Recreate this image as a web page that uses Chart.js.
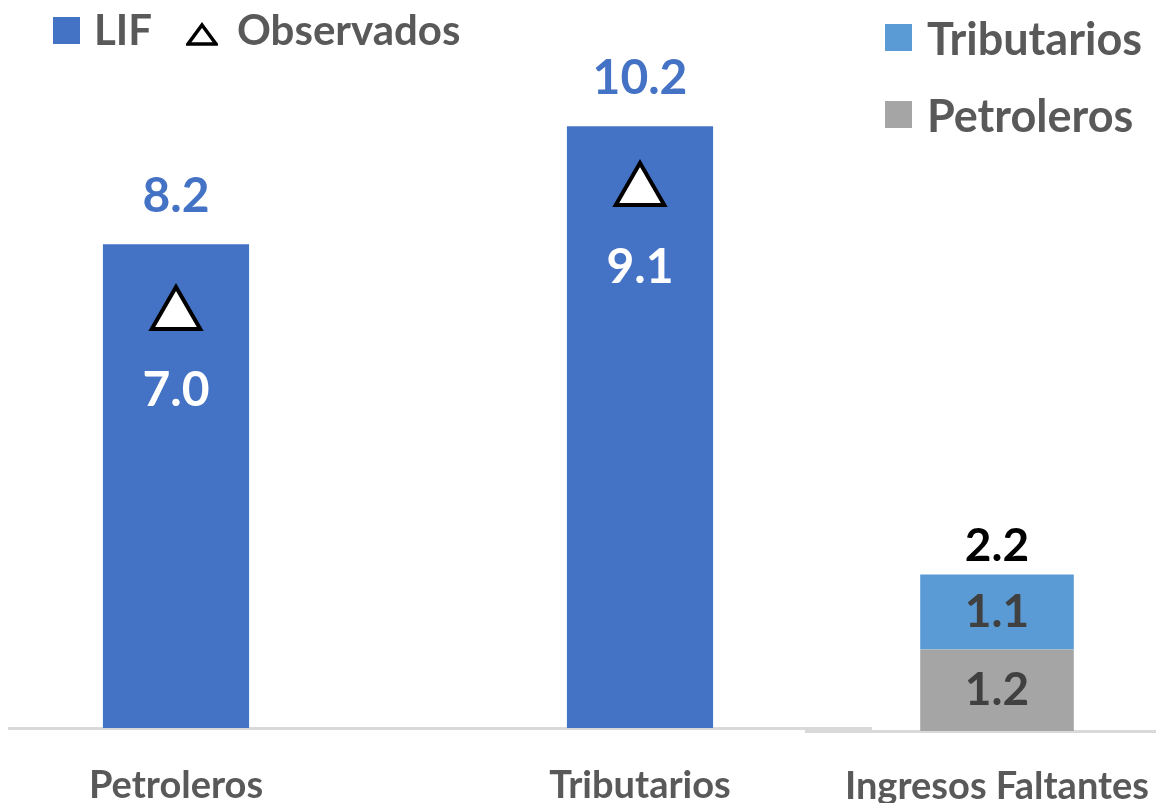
<!DOCTYPE html>
<html>
<head>
<meta charset="utf-8">
<script src="https://cdn.jsdelivr.net/npm/chart.js@4/dist/chart.umd.min.js"></script>
<style>
  html, body { margin: 0; padding: 0; background: #fff; overflow: hidden; }
  body { width: 1156px; height: 803px; position: relative; font-family: Lato, sans-serif; }
  #leftWrap { position: absolute; left: 8px; top: 0; width: 864px; height: 803px; overflow: hidden; }
  #leftChart { position: absolute; left: -64px; top: 0; }
  #rightChart { position: absolute; left: 805px; top: 0; }
  .lg { position: absolute; font-weight: 700; color: #595959; line-height: 1; white-space: nowrap; }
  .sw { position: absolute; width: 27px; height: 27px; }
</style>
</head>
<body>
<div id="leftWrap"><canvas id="leftChart" width="928" height="803"></canvas></div>
<canvas id="rightChart" width="384" height="803"></canvas>

<!-- legends -->
<div class="sw" style="left:53px; top:17px; background:#4472C4;"></div>
<div class="lg" style="left:94px; top:8px; font-size:42px;">LIF</div>
<svg style="position:absolute; left:186px; top:22px;" width="32" height="26">
  <polygon points="16,3 30,22 2,22" fill="#fff" stroke="#000" stroke-width="3.5" stroke-linejoin="miter"/>
</svg>
<div class="lg" style="left:237px; top:8px; font-size:42px;">Observados</div>

<div class="sw" style="left:885px; top:24px; background:#5B9BD5;"></div>
<div class="lg" style="left:927px; top:16px; font-size:45px;">Tributarios</div>
<div class="sw" style="left:885px; top:101px; background:#A5A5A5;"></div>
<div class="lg" style="left:927px; top:93px; font-size:45px;">Petroleros</div>

<script>
// data
const categories = ['Petroleros', 'Tributarios'];
const lifValues = [8.2, 10.2];
const observedValues = [7.0, 9.1];

const gapCategories = ['Ingresos Faltantes'];
const gapPetroleros = [1.2];
const gapTributarios = [1.1];
const gapTotals = ['2.2'];

// draws value labels next to the bars / points
const valueLabels = {
    id: 'valueLabels',
    afterDatasetsDraw(chart) {
        const ctx = chart.ctx;
        chart.data.datasets.forEach((ds, i) => {
            const opt = ds.valueLabel;
            if (!opt) return;
            const meta = chart.getDatasetMeta(i);
            meta.data.forEach((el, j) => {
                const text = opt.text ? opt.text[j] : ds.data[j].toFixed(1);
                let y = opt.pos === 'center' ? (el.y + el.base) / 2 : el.y + opt.offset;
                ctx.save();
                ctx.font = 'bold ' + opt.size + 'px Lato';
                ctx.fillStyle = opt.color;
                ctx.textAlign = 'center';
                ctx.textBaseline = 'middle';
                ctx.fillText(text, el.x, y);
                ctx.restore();
            });
        });
    }
};

function xAxis(height, pad) {
    return {
        grid: { display: false, drawTicks: false },
        border: { display: true, color: '#d9d9d9', width: 3 },
        ticks: { color: '#595959', font: { family: 'Lato', size: 38, weight: 'bold' }, padding: pad, maxRotation: 0 },
        afterFit: (scale) => { scale.height = height; }
    };
}

// LIF vs observed
new Chart(document.getElementById('leftChart'), {
    type: 'bar',
    data: {
        labels: categories,
        datasets: [
            {
                type: 'line',
                label: 'Observados',
                data: observedValues,
                showLine: false,
                pointStyle: 'triangle',
                pointRadius: 28,
                pointBackgroundColor: '#ffffff',
                pointBorderColor: '#000000',
                pointBorderWidth: 4,
                valueLabel: { offset: 76, size: 48, color: '#ffffff' },
                order: 0
            },
            {
                label: 'LIF',
                data: lifValues,
                backgroundColor: '#4472C4',
                barPercentage: 0.315,
                categoryPercentage: 1,
                valueLabel: { offset: -48, size: 48, color: '#4472C4' },
                order: 1
            }
        ]
    },
    options: {
        responsive: false,
        animation: false,
        events: [],
        layout: { autoPadding: false, padding: { top: 20, left: 0, right: 0, bottom: 0 } },
        plugins: { legend: { display: false }, tooltip: { enabled: false } },
        scales: {
            x: xAxis(75, 35),
            y: { display: false, min: 0, max: 12 }
        }
    },
    plugins: [valueLabels]
});

// missing revenue, stacked
new Chart(document.getElementById('rightChart'), {
    type: 'bar',
    data: {
        labels: gapCategories,
        datasets: [
            {
                label: 'Petroleros',
                data: gapPetroleros,
                backgroundColor: '#A5A5A5',
                barPercentage: 0.40,
                categoryPercentage: 1,
                valueLabel: { pos: 'center', size: 46, color: '#404040' }
            },
            {
                label: 'Tributarios',
                data: gapTributarios,
                backgroundColor: '#5B9BD5',
                barPercentage: 0.40,
                categoryPercentage: 1,
                valueLabel: { pos: 'center', size: 46, color: '#404040' }
            },
            {
                // invisible helper to place the total on top of the stack
                label: 'Total',
                data: [0],
                backgroundColor: 'rgba(0,0,0,0)',
                barPercentage: 0.40,
                categoryPercentage: 1,
                valueLabel: { offset: -28, size: 46, color: '#000000', text: gapTotals }
            }
        ]
    },
    options: {
        responsive: false,
        animation: false,
        events: [],
        layout: { autoPadding: false, padding: { top: 51, left: 0, right: 0, bottom: 0 } },
        plugins: { legend: { display: false }, tooltip: { enabled: false } },
        scales: {
            x: Object.assign(xAxis(72, 33), { stacked: true }),
            y: { display: false, stacked: true, min: 0, max: 10 }
        }
    },
    plugins: [valueLabels]
});
</script>
</body>
</html>
